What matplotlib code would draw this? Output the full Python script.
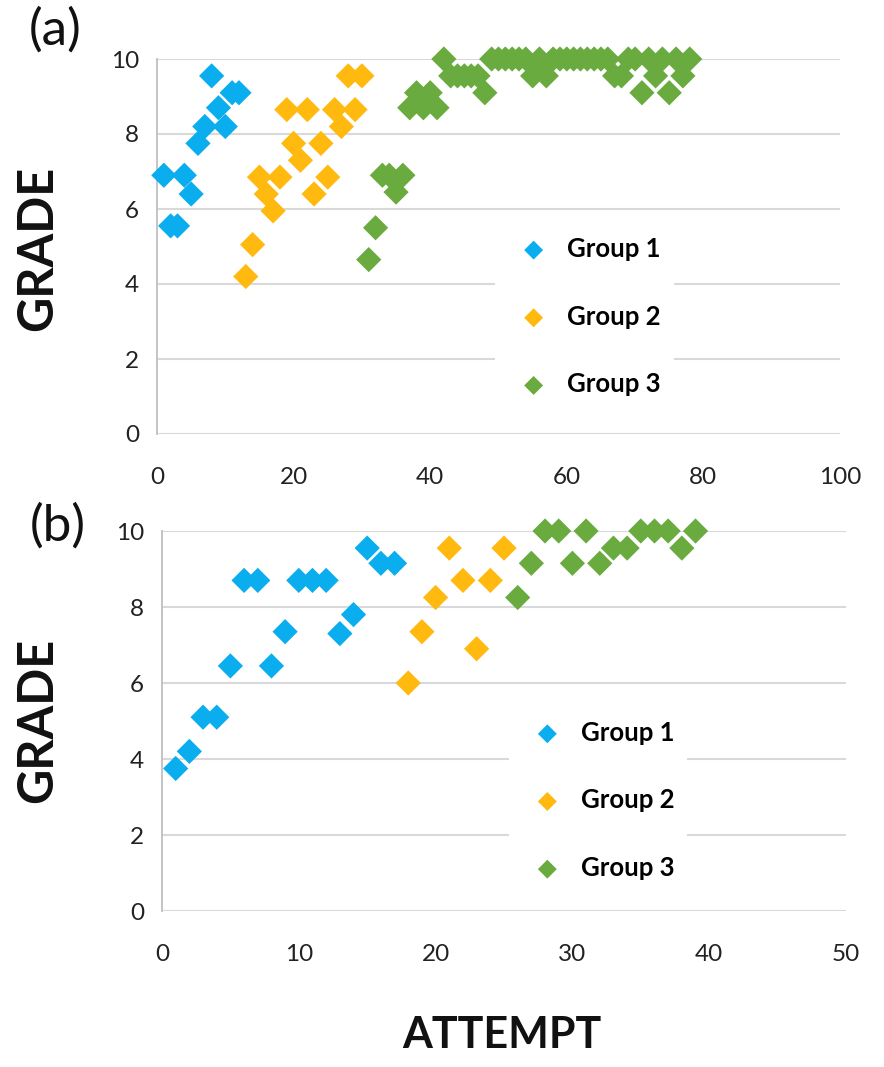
import matplotlib
matplotlib.use("Agg")
import matplotlib.pyplot as plt

plt.rcParams['font.family'] = ['Lato', 'DejaVu Sans']

# ---------------- data: panel (a) ----------------
a_g1_x = [1, 2, 3, 4, 5, 6, 7, 8, 9, 10, 11, 12]
a_g1_y = [6.9, 5.55, 5.55, 6.9, 6.4, 7.75, 8.2, 9.55, 8.7, 8.2, 9.1, 9.1]

a_g2_x = [13, 14, 15, 16, 17, 18, 19, 20, 21, 22, 23, 24, 25, 26, 27, 28, 29, 30]
a_g2_y = [4.2, 5.05, 6.85, 6.4, 5.95, 6.85, 8.65, 7.75, 7.3, 8.65, 6.4, 7.75,
          6.85, 8.65, 8.2, 9.55, 8.65, 9.55]

a_g3_x = [31, 32, 33, 34, 35, 36, 37, 38, 39, 40, 41, 42, 43, 44, 45, 46, 47, 48,
          49, 50, 51, 52, 53, 54, 55, 56, 57, 58, 59, 60, 61, 62, 63, 64, 65, 66,
          67, 68, 69, 70, 71, 72, 73, 74, 75, 76, 77, 78]
a_g3_y = [4.65, 5.5, 6.9, 6.9, 6.45, 6.9, 8.7, 9.1, 8.7, 9.1, 8.7, 10,
          9.55, 9.55, 9.55, 9.55, 9.55, 9.1,
          10, 10, 10, 10, 10, 10, 9.55, 10, 9.55, 10, 10, 10, 10, 10, 10, 10, 10, 10,
          9.55, 9.55, 10, 10, 9.1, 10, 9.55, 10, 9.1, 10, 9.55, 10]

# ---------------- data: panel (b) ----------------
b_g1_x = [1, 2, 3, 4, 5, 6, 7, 8, 9, 10, 11, 12, 13, 14, 15, 16, 17]
b_g1_y = [3.75, 4.2, 5.1, 5.1, 6.45, 8.7, 8.7, 6.45, 7.35, 8.7, 8.7, 8.7,
          7.3, 7.8, 9.55, 9.15, 9.15]

b_g2_x = [18, 19, 20, 21, 22, 23, 24, 25]
b_g2_y = [6.0, 7.35, 8.25, 9.55, 8.7, 6.9, 8.7, 9.55]

b_g3_x = [26, 27, 28, 29, 30, 31, 32, 33, 34, 35, 36, 37, 38, 39]
b_g3_y = [8.25, 9.15, 10, 10, 9.15, 10, 9.15, 9.55, 9.55, 10, 10, 10, 9.55, 10]

labels = ["Group 1", "Group 2", "Group 3"]
colors = ["#0AADEE", "#FFB90F", "#6AAB3F"]

a_xticks = [0, 20, 40, 60, 80, 100]
b_xticks = [0, 10, 20, 30, 40, 50]
yticks = [0, 2, 4, 6, 8, 10]

W, H = 884, 1067
fig = plt.figure(figsize=(W / 100, H / 100), dpi=100)
fig.patch.set_facecolor("white")

ax1 = fig.add_axes([157 / W, 1 - 434 / H, 683 / W, 375 / H])
ax2 = fig.add_axes([162 / W, 1 - 911 / H, 684 / W, 380 / H])

grid_c = "#D9D9D9"
axis_c = "#BFBFBF"


def style(ax, xmax, xticks):
    ax.set_xlim(0, xmax)
    ax.set_ylim(0, 10)
    ax.set_xticks(xticks)
    ax.set_yticks(yticks)
    ax.set_xticklabels([str(t) for t in xticks])
    ax.set_yticklabels([str(t) for t in yticks])
    for s in ["top", "right", "bottom"]:
        ax.spines[s].set_visible(False)
    ax.spines["left"].set_color(axis_c)
    ax.spines["left"].set_linewidth(1.3)
    ax.yaxis.grid(True, color=grid_c, linewidth=1.5)
    ax.set_axisbelow(True)
    ax.tick_params(axis="both", length=0, labelsize=17.5, colors="#222222")
    ax.tick_params(axis="y", pad=13)
    ax.tick_params(axis="x", pad=24)


def draw(ax, xs, ys, loc_anchor):
    handles = []
    for x, y, c, lab in zip(xs, ys, colors, labels):
        h = ax.scatter(x, y, marker="D", s=165, color=c, edgecolors="none",
                       clip_on=False, zorder=3, label=lab)
        handles.append(h)
    leg = ax.legend(handles=handles, loc="upper left", bbox_to_anchor=loc_anchor,
                    frameon=True, facecolor="white", edgecolor="none", framealpha=1,
                    prop={"weight": "bold", "size": 18.5}, labelspacing=1.7,
                    handletextpad=0.3, borderpad=0.5, markerscale=0.75,
                    scatterpoints=1, borderaxespad=0)
    leg.set_zorder(4)


style(ax1, 100, a_xticks)
style(ax2, 50, b_xticks)
draw(ax1, [a_g1_x, a_g2_x, a_g3_x], [a_g1_y, a_g2_y, a_g3_y], (0.495, 0.56))
draw(ax2, [b_g1_x, b_g2_x, b_g3_x], [b_g1_y, b_g2_y, b_g3_y], (0.507, 0.535))

fig.text(38 / W, 1 - 248 / H, "GRADE", rotation=90, ha="center", va="center",
         fontsize=35, fontweight="bold", color="#111111")
fig.text(38 / W, 1 - 720 / H, "GRADE", rotation=90, ha="center", va="center",
         fontsize=35, fontweight="bold", color="#111111")
fig.text(502 / W, 1 - 1035 / H, "ATTEMPT", ha="center", va="center",
         fontsize=31, fontweight="bold", color="#111111")

fig.text(55 / W, 1 - 30 / H, "(a)", ha="center", va="center", fontsize=37, color="#111111")
fig.text(58 / W, 1 - 526 / H, "(b)", ha="center", va="center", fontsize=37, color="#111111")

fig.savefig("out.png", dpi=100, facecolor="white")
